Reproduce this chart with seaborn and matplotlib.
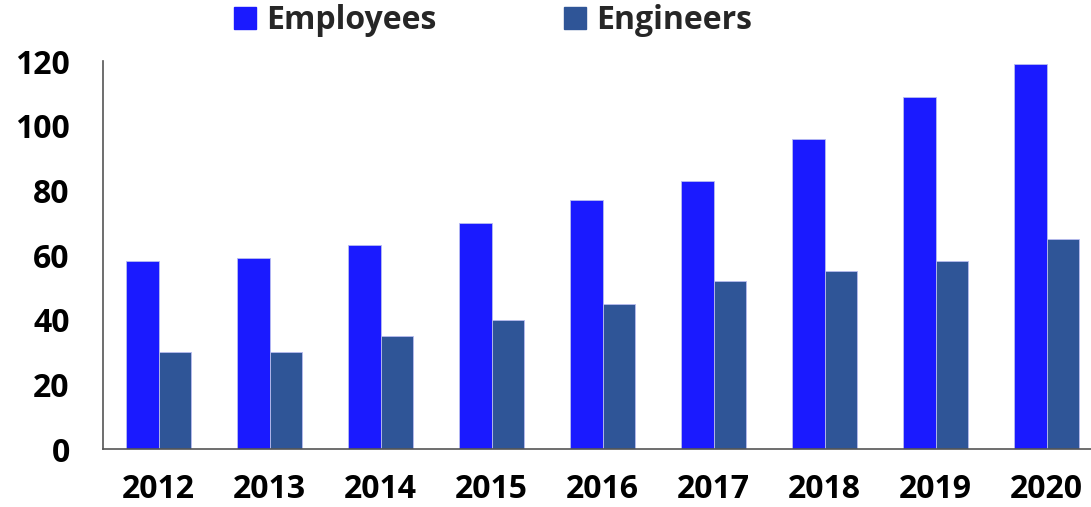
import numpy as np
import pandas as pd
import matplotlib.pyplot as plt
import seaborn as sns
from matplotlib.patches import Patch

years = ['2012', '2013', '2014', '2015', '2016', '2017', '2018', '2019', '2020']
employees = [58, 59, 63, 70, 77, 83, 96, 109, 119]
engineers = [30, 30, 35, 40, 45, 52, 55, 58, 65]
series_names = ['Employees', 'Engineers']
series_colors = ['#1a1aff', '#2f5597']

df = pd.DataFrame({
    'Year': years * 2,
    'Value': employees + engineers,
    'Series': [series_names[0]] * len(years) + [series_names[1]] * len(years),
})

sns.set_style('white')
plt.rcParams['font.family'] = ['Open Sans', 'DejaVu Sans']

fig = plt.figure(figsize=(10.91, 5.07), dpi=100)
ax = fig.add_axes([103 / 1091, 1 - 449 / 507, 999 / 1091, 388 / 507])

sns.barplot(data=df, x='Year', y='Value', hue='Series', palette=series_colors,
            saturation=1, width=0.58, ax=ax, legend=False,
            edgecolor='#b8bcf0', linewidth=0.6)

ax.set_xlim(-0.5, 8.5)
ax.set_ylim(0, 120)
ax.set_yticks(range(0, 121, 20))
ax.set_xlabel('')
ax.set_ylabel('')
for s in ['top', 'right']:
    ax.spines[s].set_visible(False)
for s in ['left', 'bottom']:
    ax.spines[s].set_color('#555555')
    ax.spines[s].set_linewidth(1.2)
ax.tick_params(axis='both', length=0, labelsize=23, labelcolor='black')
ax.tick_params(axis='x', pad=17)
ax.tick_params(axis='y', pad=24)
for lab in ax.get_xticklabels() + ax.get_yticklabels():
    lab.set_fontweight('bold')

handles = [Patch(color=c, label=n) for c, n in zip(series_colors, series_names)]
fig.legend(handles=handles, loc='upper left', bbox_to_anchor=(205 / 1091, 1.048),
           ncol=2, frameon=False, prop={'size': 23, 'weight': 'bold'},
           handlelength=0.7, handleheight=0.7, handletextpad=0.3, columnspacing=4.0)

fig.savefig('out.png', dpi=100)
